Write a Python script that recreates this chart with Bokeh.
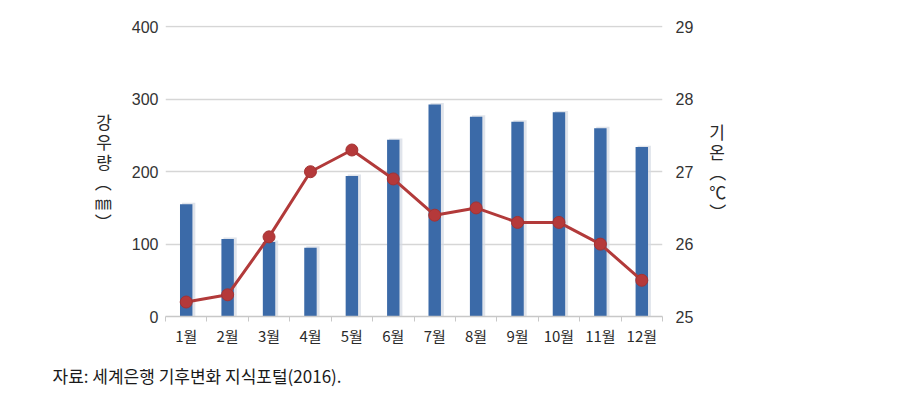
from bokeh.plotting import figure
from bokeh.models import Range1d, LinearAxis, FixedTicker, Title
from bokeh.embed import file_html
from bokeh.resources import INLINE

months = ["1월", "2월", "3월", "4월", "5월", "6월", "7월", "8월", "9월", "10월", "11월", "12월"]
rainfall = [155, 107, 103, 95, 194, 244, 293, 276, 269, 282, 260, 234]
temperature = [25.2, 25.3, 26.1, 27.0, 27.3, 26.9, 26.4, 26.5, 26.3, 26.3, 26.0, 25.5]
rain_ticks = [0, 100, 200, 300, 400]
temp_ticks = [25, 26, 27, 28, 29]
rain_title = "강\n우\n량\n︵\n㎜\n︶"
temp_title = "기\n온\n︵\n℃\n︶"
source_text = "자료: 세계은행 기후변화 지식포털(2016)."

KR = "Noto Sans CJK KR"
NUM = "Liberation Sans"

xs = list(range(1, len(months) + 1))

p = figure(width=903, height=416, x_range=Range1d(0.5, 12.5), y_range=Range1d(0, 402),
           output_backend="svg", toolbar_location=None,
           min_border_left=165, min_border_right=241, min_border_top=25, min_border_bottom=100)
p.extra_y_ranges = {"temp": Range1d(25, 29.02)}
p.outline_line_color = None
p.background_fill_color = "white"
p.border_fill_color = "white"

# shadow of bars
p.vbar(x=[x + 0.06 for x in xs], top=[r + 2 for r in rainfall], width=0.32,
       fill_color="#d3d9e3", line_color=None, fill_alpha=0.7)
p.vbar(x=xs, top=rainfall, width=0.3, fill_color="#3b6aa8", line_color=None)

p.line(xs, temperature, y_range_name="temp", line_color="#b23a3a", line_width=3)
p.scatter(xs, temperature, y_range_name="temp", size=12, fill_color="#b5393a",
          line_color="#a53232", line_width=1)

# axes
p.xgrid.visible = False
p.ygrid.ticker = FixedTicker(ticks=rain_ticks)
p.ygrid.grid_line_color = "#d6d6d6"
p.ygrid.grid_line_width = 1.5

xa = p.xaxis[0]
xa.ticker = FixedTicker(ticks=xs, minor_ticks=[x - 0.5 for x in xs] + [12.5])
xa.major_label_overrides = {x: m for x, m in zip(xs, months)}
xa.major_tick_line_color = None
xa.major_tick_out = 0
xa.major_tick_in = 0
xa.minor_tick_in = 0
xa.minor_tick_out = 5
xa.minor_tick_line_color = "#c8c8c8"
xa.axis_line_color = "#c8c8c8"
xa.axis_line_width = 1.5
xa.major_label_text_font = KR
xa.major_label_text_font_size = "15px"
xa.major_label_text_color = "#2a2a2a"
xa.major_label_standoff = 3

ya = p.yaxis[0]
ya.ticker = FixedTicker(ticks=rain_ticks)
ya.axis_line_color = None
ya.major_tick_line_color = None
ya.major_tick_out = 0
ya.major_tick_in = 0
ya.minor_tick_line_color = None
ya.major_label_text_font = NUM
ya.major_label_text_font_size = "16px"
ya.major_label_text_color = "#333333"
ya.major_label_standoff = 7
ya.axis_label = rain_title
ya.axis_label_orientation = "horizontal"
ya.axis_label_text_font = KR
ya.axis_label_text_font_size = "17px"
ya.axis_label_text_font_style = "normal"
ya.axis_label_text_color = "#2a2a2a"
ya.axis_label_text_line_height = 0.8
ya.axis_label_standoff = 17

ra = LinearAxis(y_range_name="temp", ticker=FixedTicker(ticks=temp_ticks))
ra.axis_line_color = None
ra.major_tick_line_color = None
ra.major_tick_out = 0
ra.major_tick_in = 0
ra.minor_tick_line_color = None
ra.major_label_text_font = NUM
ra.major_label_text_font_size = "16px"
ra.major_label_text_color = "#333333"
ra.major_label_standoff = 13
ra.axis_label = temp_title
ra.axis_label_orientation = "horizontal"
ra.axis_label_text_font = KR
ra.axis_label_text_font_size = "17px"
ra.axis_label_text_font_style = "normal"
ra.axis_label_text_color = "#2a2a2a"
ra.axis_label_text_line_height = 0.8
ra.axis_label_standoff = 13
p.add_layout(ra, "right")

src = Title(text=source_text, align="left", offset=-113, text_font=KR,
            text_font_size="17px", text_font_style="normal", text_color="#1a1a1a",
            standoff=25)
p.add_layout(src, "below")

open("out.html", "w").write(file_html(p, INLINE))
